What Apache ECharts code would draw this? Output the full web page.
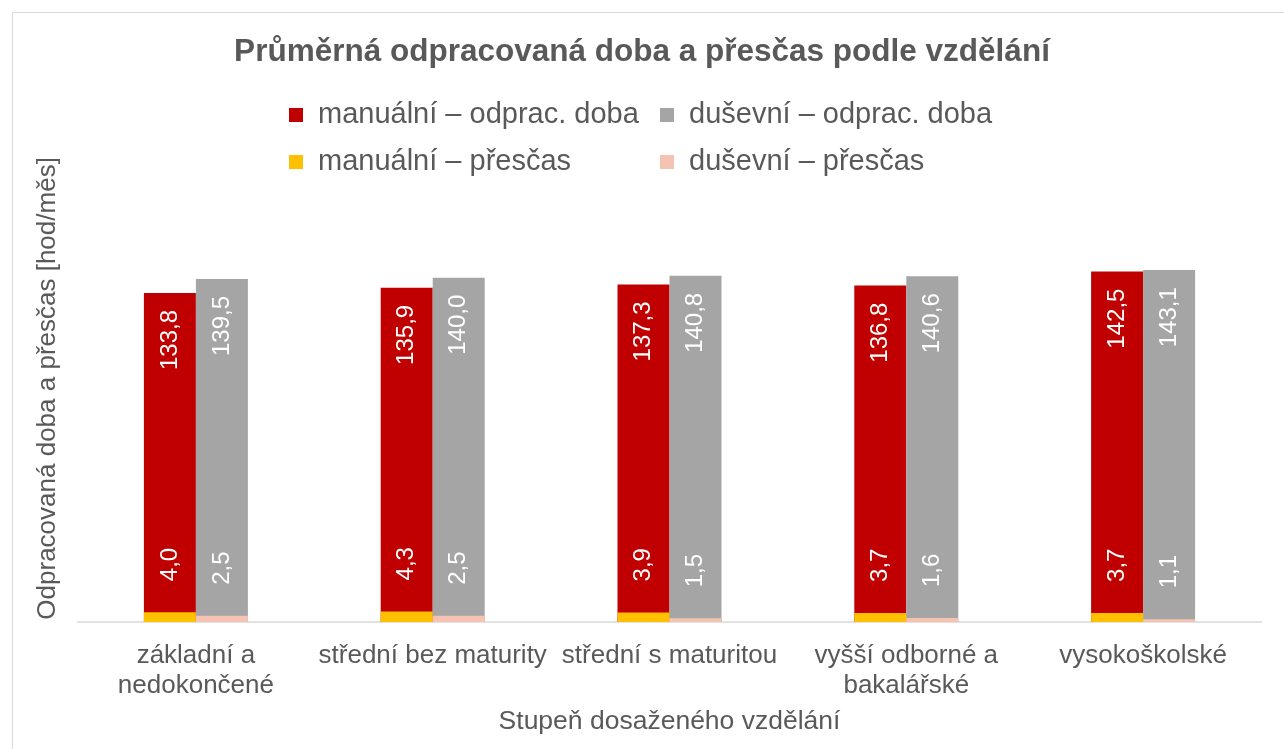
<!DOCTYPE html>
<html>
<head>
<meta charset="utf-8">
<script src="https://cdn.jsdelivr.net/npm/echarts@6/dist/echarts.min.js"></script>
<style>
  html, body { margin: 0; padding: 0; background: #fff; }
  #chart { width: 1284px; height: 749px; }
</style>
</head>
<body>
<div id="chart"></div>
<script>
// Průměrná odpracovaná doba a přesčas podle vzdělání (hod/měs)
const categories = ['základní a\nnedokončené', 'střední bez maturity', 'střední s maturitou', 'vyšší odborné a\nbakalářské', 'vysokoškolské']
const manualWorked = [133.8, 135.9, 137.3, 136.8, 142.5]
const mentalWorked = [139.5, 140.0, 140.8, 140.6, 143.1]
const manualOvertime = [4.0, 4.3, 3.9, 3.7, 3.7]
const mentalOvertime = [2.5, 2.5, 1.5, 1.6, 1.1]

const txt = '#595959'
const font = '"Liberation Sans", Arial, sans-serif'
const fmt = (p) => p.value.toFixed(1).replace('.', ',')

// odprac. doba: popisek u horního konce sloupce
const topLabel = {
  show: true, position: 'insideTop', distance: 17, rotate: 90,
  align: 'right', verticalAlign: 'middle',
  color: '#fff', fontSize: 24, fontFamily: font, formatter: fmt,
}
// přesčas: malý sloupec dole, popisek nad ním (přes sloupec odprac. doby)
const otLabel = {
  show: true, position: 'top', distance: 31, rotate: 90,
  align: 'left', verticalAlign: 'middle',
  color: '#fff', fontSize: 24, fontFamily: font, formatter: fmt,
}

const legendText = { fontSize: 29, color: txt, lineHeight: 30, padding: [0, 0, 0, 10] }

const chart = echarts.init(document.getElementById('chart'))
chart.setOption({
  animation: false,
  textStyle: { fontFamily: font },
  title: {
    text: 'Průměrná odpracovaná doba a přesčas podle vzdělání',
    left: 'center', top: 31,
    textStyle: { fontSize: 31.5, fontWeight: 'bold', color: txt, fontFamily: font },
  },
  legend: [
    { orient: 'vertical', left: 289, top: 100, padding: 0, itemWidth: 14, itemHeight: 14, itemGap: 17,
      icon: 'rect', data: ['manuální – odprac. doba', 'manuální – přesčas'], textStyle: legendText },
    { orient: 'vertical', left: 660, top: 100, padding: 0, itemWidth: 14, itemHeight: 14, itemGap: 17,
      icon: 'rect', data: ['duševní – odprac. doba', 'duševní – přesčas'], textStyle: legendText },
  ],
  grid: { left: 77.5, right: 22.5, top: 154.8, bottom: 127 },
  xAxis: [
    {
      type: 'category', data: categories,
      name: 'Stupeň dosaženého vzdělání', nameLocation: 'middle', nameGap: 86,
      nameTextStyle: { fontSize: 26.5, color: txt },
      axisLine: { lineStyle: { color: '#d9d9d9', width: 1.5 } },
      axisTick: { show: false },
      axisLabel: { fontSize: 26, color: txt, lineHeight: 30, margin: 19, interval: 0 },
    },
    { type: 'category', data: categories, show: false },
  ],
  yAxis: {
    type: 'value', min: 0, max: 190,
    name: 'Odpracovaná doba a přesčas [hod/měs]', nameLocation: 'middle', nameGap: 17,
    nameTextStyle: { fontSize: 26, color: txt },
    axisLine: { show: false }, axisTick: { show: false },
    axisLabel: { show: false }, splitLine: { show: false },
  },
  series: [
    { name: 'manuální – odprac. doba', type: 'bar', xAxisIndex: 0, data: manualWorked,
      barWidth: 52, barGap: '0%', itemStyle: { color: '#C00000' }, label: topLabel },
    { name: 'duševní – odprac. doba', type: 'bar', xAxisIndex: 0, data: mentalWorked,
      barWidth: 52, barGap: '0%', itemStyle: { color: '#A5A5A5' }, label: topLabel },
    { name: 'manuální – přesčas', type: 'bar', xAxisIndex: 1, data: manualOvertime, z: 3,
      barWidth: 52, barGap: '0%', itemStyle: { color: '#FFC000' }, label: otLabel },
    { name: 'duševní – přesčas', type: 'bar', xAxisIndex: 1, data: mentalOvertime, z: 3,
      barWidth: 52, barGap: '0%', itemStyle: { color: '#F5C3B2' }, label: otLabel },
  ],
  graphic: [{
    type: 'rect', left: 10, top: 10, silent: true,
    shape: { width: 1273, height: 760 },
    style: { fill: null, stroke: '#d9d9d9', lineWidth: 1 },
  }],
})
</script>
</body>
</html>
